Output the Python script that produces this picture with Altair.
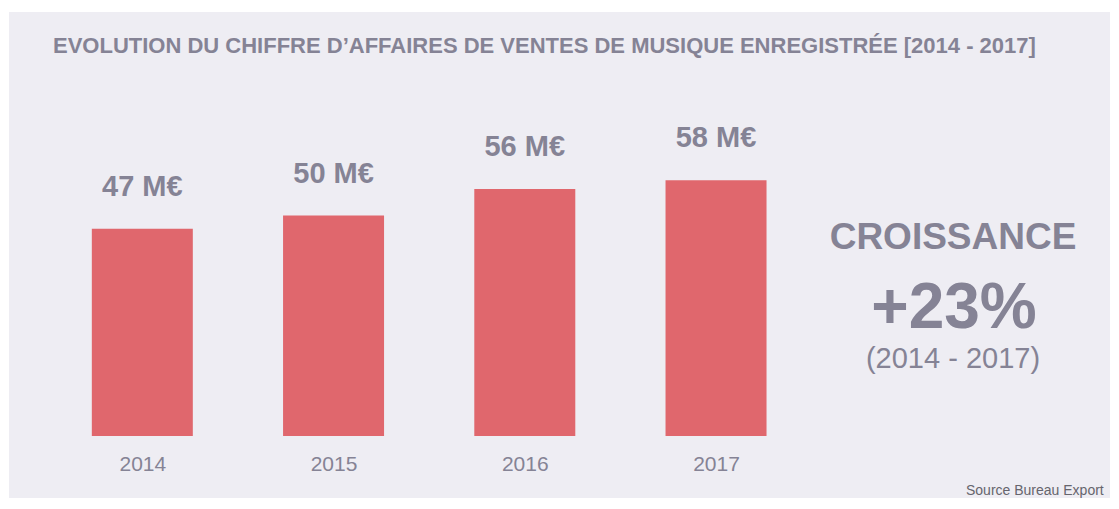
import altair as alt
import pandas as pd

years = [2014, 2015, 2016, 2017]
values = [47, 50, 56, 58]
labels = ["47 M€", "50 M€", "56 M€", "58 M€"]

title_text = "EVOLUTION DU CHIFFRE D’AFFAIRES DE VENTES DE MUSIQUE ENREGISTRÉE [2014 - 2017]"
growth_head = "CROISSANCE"
growth_value = "+23%"
growth_period = "(2014 - 2017)"
source_text = "Source Bureau Export"

df = pd.DataFrame({"year": years, "value": values, "label": labels})

TEXT = "#858395"
BAR = "#e0676d"
BG = "#eeedf3"
FONT = "Liberation Sans"

W, H = 1101, 486

xscale = alt.Scale(domain=[2013.329, 2019.034], nice=False, zero=False)
yscale = alt.Scale(domain=[-14.06, 96.15], nice=False, zero=False)

x_enc = alt.X(
    "year:Q",
    scale=xscale,
    axis=alt.Axis(
        values=years, format="d", title=None, grid=False, domain=False,
        ticks=False, labelPadding=0, offset=-28, labelBaseline="alphabetic",
        labelFont=FONT, labelFontSize=21, labelColor=TEXT, labelFontWeight="normal",
    ),
)
y_enc = alt.Y("value:Q", scale=yscale, axis=None)

base = alt.Chart(df)

bars = base.mark_bar(width=101, color=BAR).encode(x=x_enc, y=y_enc, y2=alt.datum(0))

vals = base.mark_text(
    baseline="alphabetic", align="center", dy=-33, font=FONT, fontSize=29,
    fontWeight="bold", color=TEXT,
).encode(x=alt.X("year:Q", scale=xscale), y=alt.Y("value:Q", scale=yscale), text="label:N")

def note(txt, x, y, size, weight="bold", align="center", color=TEXT):
    return alt.Chart(pd.DataFrame({"t": [txt]})).mark_text(
        baseline="alphabetic", align=align, font=FONT, fontSize=size,
        fontWeight=weight, color=color,
    ).encode(x=alt.value(x), y=alt.value(y), text="t:N")

title = note(title_text, 44, 41, 22, align="left")
g1 = note(growth_head, 944, 237, 37)
g2 = note(growth_value, 945, 316, 64)
g3 = note(growth_period, 944, 356, 29, weight="normal")
src = note(source_text, 957, 483, 14, weight="normal", align="left", color="#66656d")

chart = (
    alt.layer(bars, vals, title, g1, g2, g3, src)
    .properties(width=W, height=H, background="white",
                padding={"left": 1, "top": 4, "right": 0, "bottom": 0})
    .configure_view(fill=BG, stroke=None)
)

chart.save("out.html", embed_options={"renderer": "svg", "actions": False})
